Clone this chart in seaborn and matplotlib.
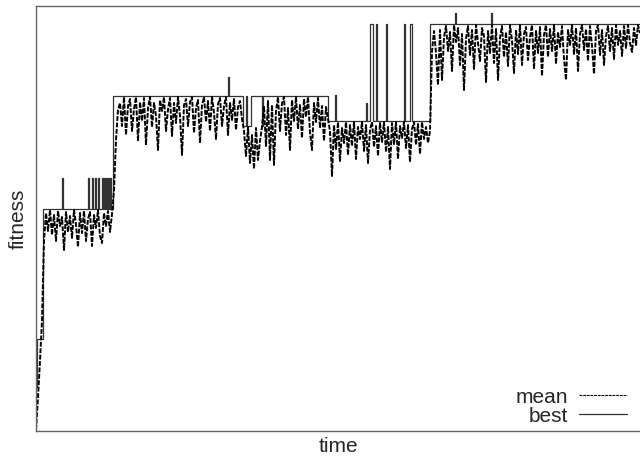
import numpy as np
import pandas as pd
import matplotlib
matplotlib.use("Agg")
import matplotlib.pyplot as plt
import seaborn as sns

# mean fitness of the population, sampled every 2 time steps
ramp_start = [1, 34, 70, 110, 190]
plateau_1 = [218, 200, 221, 196, 216, 190, 220, 205, 214, 181, 219, 199, 215, 193, 221, 206, 184,
             218, 198, 220, 190, 212, 219, 185, 216, 203, 221, 195, 188, 218, 205, 220, 199, 217]
ramp_1 = [241, 291, 321]
plateau_2 = [328, 305, 334, 296, 325, 332, 300, 322, 334, 290, 329, 310, 333, 286, 323, 334, 304,
             328, 315, 281, 331, 320, 334, 300, 322, 333, 295, 328, 308, 334, 315, 276, 326, 332,
             305, 329, 334, 298, 323, 331, 288, 326, 334, 309, 330, 300, 334, 318, 292, 327, 333,
             305, 325, 334, 296, 328, 311, 332, 301, 324, 330, 312]
dip_2 = [300, 275, 304, 268, 296, 262, 303, 271, 290, 304]
plateau_2b = [325, 285, 330, 271, 326, 266, 320, 334, 300, 328, 334, 296, 323, 281, 331, 310, 334,
              302, 326, 293, 332, 314, 334, 298, 281, 328, 309, 333, 303, 325, 290, 324, 312]
plateau_3 = [300, 255, 306, 282, 309, 270, 303, 288, 309, 276, 306, 285, 309, 272, 304, 292, 309,
             280, 306, 268, 301, 309, 284, 305, 275, 308, 289, 309, 279, 304, 262, 308, 287, 309,
             272, 305, 293, 309, 283, 306, 269, 302, 309, 286, 307, 277, 309, 292, 304, 288]
ramp_2 = [300, 380, 400]
plateau_4 = [378, 346, 401, 351, 394, 405, 380, 399, 360, 406, 389, 403, 366, 397, 341, 392, 405,
             376, 401, 362, 406, 388, 370, 403, 395, 349, 400, 378, 406, 368, 402, 351, 393, 405,
             374, 399, 365, 406, 391, 358, 401, 377, 406, 366, 397, 404, 371, 394, 406, 362, 400,
             378, 404, 355, 396, 406, 374, 402, 380, 406, 367, 399, 384, 405, 372, 351, 401, 386,
             406, 377, 403, 360, 397, 406, 381, 402, 370, 405, 385, 357, 400, 406, 376, 401, 366,
             395, 405, 380, 403, 372, 406, 386, 400, 375, 405, 383, 406, 388, 379, 403, 386, 406, 398]

# best fitness in the population (step changes)
best_time = [0, 1, 7, 26, 27, 52, 53, 56, 57, 59, 60, 62, 63, 66, 67, 68, 69, 70, 71, 72, 73, 74, 75,
             77, 192, 193, 207, 210, 211, 215, 226, 227, 292, 299, 300, 330, 331, 334, 337, 340, 341,
             350, 351, 368, 369, 374, 376, 394, 419, 420, 455, 456, 604]
best_fit = [44, 92, 222, 253, 222, 253, 222, 253, 222, 253, 222, 253, 222, 253, 222, 253, 222, 253,
            222, 253, 222, 253, 222, 335, 354, 335, 305, 335, 305, 335, 305, 335, 310, 336, 310, 328,
            310, 407, 310, 407, 310, 407, 310, 407, 310, 407, 310, 407, 418, 407, 418, 407, 407]

mean_fit = (ramp_start + plateau_1 + ramp_1 + plateau_2 + dip_2 + plateau_2b
            + plateau_3 + ramp_2 + plateau_4)
mean_df = pd.DataFrame({"time": np.arange(len(mean_fit)) * 2, "fitness": mean_fit})
best_df = pd.DataFrame({"time": best_time, "fitness": best_fit})

sns.set_style("white")
plt.rcParams["font.family"] = ["Liberation Sans", "DejaVu Sans"]

fig = plt.figure(figsize=(6.4, 4.59), dpi=100)
ax = fig.add_axes([36 / 640, 1 - 431 / 459, 1 - 36 / 640, 425 / 459])

sns.lineplot(data=best_df, x="time", y="fitness", ax=ax, estimator=None, sort=False,
             drawstyle="steps-post", color="#333333", linewidth=0.9, label="best")
sns.lineplot(data=mean_df, x="time", y="fitness", ax=ax, estimator=None, sort=False,
             color="black", linewidth=1.4, dashes=False, linestyle=(0, (2.5, 0.8)), label="mean")

ax.set_xlim(0, 604)
ax.set_ylim(0, 425)
ax.set_xticks([])
ax.set_yticks([])
ax.set_xlabel("time", fontsize=15, labelpad=4)
ax.set_ylabel("fitness", fontsize=15, labelpad=6)
for side in ["left", "bottom", "top"]:
    ax.spines[side].set_color("#666666")
    ax.spines[side].set_linewidth(1.0)
ax.spines["right"].set_visible(False)

h, l = ax.get_legend_handles_labels()
leg = ax.legend(h[::-1], l[::-1], loc="lower right", bbox_to_anchor=(0.995, -0.012),
                frameon=False, markerfirst=False, fontsize=15, handlelength=2.3,
                handletextpad=0.5, labelspacing=0.0, borderpad=0)
leg.get_lines()[0].set_linewidth(0.8)

fig.savefig("out.png", dpi=100)
